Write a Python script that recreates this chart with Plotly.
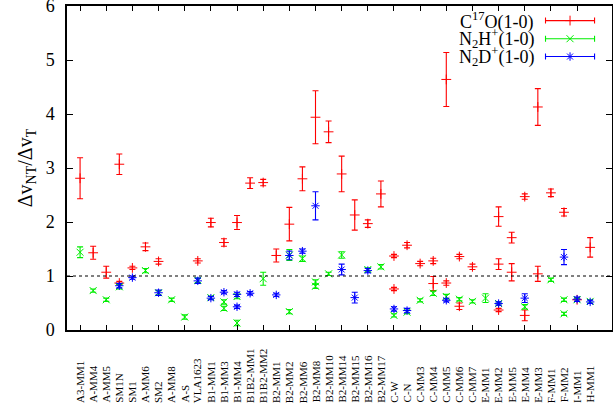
import plotly.graph_objects as go

# ---------------- data ----------------
sources = ["A3-MM1", "A-MM4", "A-MM5", "SM1N", "SM1", "A-MM6", "SM2", "A-MM8", "A-S",
           "VLA1623", "B1-MM1", "B1-MM3", "B1-MM4", "B1B2-MM1", "B1B2-MM2", "B2-MM1",
           "B2-MM2", "B2-MM6", "B2-MM8", "B2-MM10", "B2-MM14", "B2-MM15", "B2-MM16",
           "B2-MM17", "C-W", "C-N", "C-MM3", "C-MM4", "C-MM5", "C-MM6", "C-MM7",
           "E-MM1", "E-MM2", "E-MM5", "E-MM4", "E-MM3", "F-MM1", "F-MM2", "I-MM1", "H-MM1"]

c17o_src = ["A3-MM1", "A-MM4", "A-MM5", "SM1N", "SM1N", "SM1", "A-MM6", "SM2", "VLA1623",
            "B1-MM1", "B1-MM3", "B1-MM4", "B1B2-MM1", "B1B2-MM2", "B2-MM1", "B2-MM2",
            "B2-MM6", "B2-MM8", "B2-MM10", "B2-MM14", "B2-MM15", "B2-MM16", "B2-MM17",
            "C-W", "C-W", "C-N", "C-MM3", "C-MM4", "C-MM4", "C-MM5", "C-MM5", "C-MM6",
            "C-MM6", "C-MM7", "E-MM2", "E-MM2", "E-MM2", "E-MM5", "E-MM5", "E-MM4",
            "E-MM4", "E-MM3", "E-MM3", "F-MM1", "F-MM2", "I-MM1", "H-MM1"]
c17o_val = [2.81, 1.43, 1.07, 3.07, 0.87, 1.15, 1.54, 1.27, 1.28,
            1.99, 1.62, 1.99, 2.72, 2.73, 1.38, 1.96,
            2.80, 3.94, 3.67, 2.89, 2.13, 1.97, 2.52,
            1.37, 0.76, 1.57, 1.23, 1.28, 0.86, 4.64, 0.87, 1.36,
            0.44, 1.17, 2.10, 1.22, 0.37, 1.71, 1.07, 2.47,
            0.27, 4.13, 1.04, 2.54, 2.18, 0.56, 1.53]
c17o_err = [0.38, 0.12, 0.11, 0.19, 0.03, 0.03, 0.07, 0.05, 0.04,
            0.08, 0.07, 0.13, 0.10, 0.06, 0.12, 0.31,
            0.22, 0.49, 0.20, 0.33, 0.28, 0.07, 0.24,
            0.03, 0.03, 0.05, 0.04, 0.05, 0.13, 0.50, 0.04, 0.04,
            0.06, 0.05, 0.18, 0.10, 0.03, 0.10, 0.16, 0.05,
            0.10, 0.34, 0.14, 0.07, 0.07, 0.03, 0.18]

n2h_src = ["A3-MM1", "A-MM4", "A-MM5", "SM1N", "A-MM6", "SM2", "A-MM8", "A-S", "VLA1623",
           "B1-MM1", "B1-MM3", "B1-MM3", "B1-MM4", "B1-MM4", "B1B2-MM2", "B2-MM2", "B2-MM2",
           "B2-MM6", "B2-MM8", "B2-MM8", "B2-MM10", "B2-MM14", "B2-MM16", "B2-MM17",
           "C-W", "C-N", "C-MM3", "C-MM4", "C-MM5", "C-MM6", "C-MM7", "E-MM1", "E-MM2",
           "E-MM4", "F-MM1", "F-MM2", "F-MM2", "I-MM1", "H-MM1"]
n2h_val = [1.44, 0.73, 0.56, 0.80, 1.10, 0.69, 0.56, 0.24, 0.92,
           0.60, 0.52, 0.40, 0.62, 0.13, 0.95, 1.39, 0.34,
           1.32, 0.89, 0.81, 1.04, 1.39, 1.12, 1.17,
           0.27, 0.33, 0.55, 0.68, 0.62, 0.57, 0.53, 0.59, 0.49,
           0.43, 0.93, 0.56, 0.30, 0.56, 0.53]
n2h_err = [0.10, 0.03, 0.03, 0.04, 0.04, 0.04, 0.03, 0.04, 0.04,
           0.03, 0.04, 0.04, 0.04, 0.05, 0.12, 0.10, 0.04,
           0.05, 0.04, 0.04, 0.03, 0.06, 0.03, 0.04,
           0.03, 0.03, 0.03, 0.04, 0.04, 0.03, 0.03, 0.08, 0.03,
           0.04, 0.03, 0.03, 0.03, 0.03, 0.03]

n2d_src = ["SM1N", "SM1", "SM2", "VLA1623", "B1-MM1", "B1-MM3", "B1-MM4", "B1-MM4",
           "B1B2-MM1", "B2-MM1", "B2-MM2", "B2-MM6", "B2-MM8", "B2-MM14", "B2-MM15",
           "B2-MM16", "C-W", "C-N", "C-MM5", "E-MM2", "E-MM4", "F-MM2", "I-MM1", "H-MM1"]
n2d_val = [0.82, 0.97, 0.69, 0.91, 0.59, 0.70, 0.66, 0.43,
           0.68, 0.65, 1.38, 1.46, 2.30, 1.12, 0.60,
           1.10, 0.39, 0.36, 0.55, 0.49, 0.59, 1.35, 0.57, 0.52]
n2d_err = [0.04, 0.03, 0.05, 0.05, 0.03, 0.03, 0.04, 0.03,
           0.03, 0.03, 0.08, 0.04, 0.26, 0.10, 0.10,
           0.04, 0.04, 0.04, 0.03, 0.03, 0.08, 0.14, 0.04, 0.03]

series_names = ["C<sup>17</sup>O(1-0)", "N<sub>2</sub>H<sup>+</sup>(1-0)", "N<sub>2</sub>D<sup>+</sup>(1-0)"]
series_colors = ["#ff0000", "#00ee00", "#0000ff"]
series_symbols = ["cross-thin", "x-thin", "asterisk"]

y_ticks = [0, 1, 2, 3, 4, 5, 6]

# ---------------- figure ----------------
FONT = "Liberation Serif, Times New Roman, serif"
fig = go.Figure()

all_series = [(c17o_src, c17o_val, c17o_err), (n2h_src, n2h_val, n2h_err), (n2d_src, n2d_val, n2d_err)]
for (src, val, err), name, col, sym in zip(all_series, series_names, series_colors, series_symbols):
    fig.add_trace(go.Scatter(
        x=src, y=val, mode="markers", name=name, showlegend=False,
        marker=dict(symbol=sym, size=7, color=col, line=dict(color=col, width=1)),
        error_y=dict(type="data", array=err, visible=True, color=col, thickness=1.1, width=3),
    ))

# custom legend (gnuplot style: text on the left, sample on the right) on a hidden overlay axis
leg_y = [0.955, 0.899, 0.844]
for name, col, sym, yy in zip(series_names, series_colors, series_symbols, leg_y):
    fig.add_trace(go.Scatter(
        x=[0.923], y=[yy], mode="markers", xaxis="x2", yaxis="y2", showlegend=False,
        marker=dict(symbol=sym, size=7, color=col, line=dict(color=col, width=1)),
        error_x=dict(type="constant", value=0.045, visible=True, color=col, thickness=1.1, width=3),
        hoverinfo="skip",
    ))
    fig.add_annotation(text=name, xref="paper", yref="paper", x=0.861, y=yy,
                       xanchor="right", yanchor="middle", showarrow=False,
                       font=dict(family=FONT, size=18, color="black"))

# category labels, bottom-aligned, rotated
for s in sources:
    fig.add_annotation(text=s, x=s, xref="x", yref="paper", y=-0.231,
                       xanchor="center", yanchor="bottom", textangle=-90,
                       showarrow=False, font=dict(family=FONT, size=11, color="black"))

# reference line at unity
fig.add_shape(type="line", xref="paper", yref="y", x0=0, x1=1, y0=1, y1=1,
              line=dict(color="black", width=1, dash="dot"))

fig.update_layout(
    width=613, height=412,
    margin=dict(l=67, r=1, t=6, b=82, autoexpand=False),
    paper_bgcolor="white", plot_bgcolor="white",
    font=dict(family=FONT, size=18, color="black"),
    showlegend=False,
    xaxis=dict(type="category", categoryorder="array", categoryarray=sources,
               range=[-1, 40.67], showticklabels=False, ticks="inside", ticklen=5,
               tickcolor="black", showline=True, linecolor="black", linewidth=1.5,
               mirror="ticks", showgrid=False, zeroline=False, automargin=False),
    yaxis=dict(range=[0, 6], tickvals=y_ticks, ticks="inside", ticklen=6,
               tickcolor="black", showline=True, linecolor="black", linewidth=1.5,
               mirror="ticks", showgrid=False, zeroline=False, ticklabelstandoff=7,
               automargin=False, ticklabeloverflow="allow",
               title=dict(text="Δv<sub>NT</sub>/Δv<sub>T</sub>", font=dict(family=FONT, size=20),
                          standoff=8),
               tickfont=dict(family=FONT, size=18)),
    xaxis2=dict(overlaying="x", range=[0, 1], visible=False),
    yaxis2=dict(overlaying="y", range=[0, 1], visible=False),
)

fig.write_html("out.html", config={"displayModeBar": False},
               post_script="document.body.style.margin='0';")
